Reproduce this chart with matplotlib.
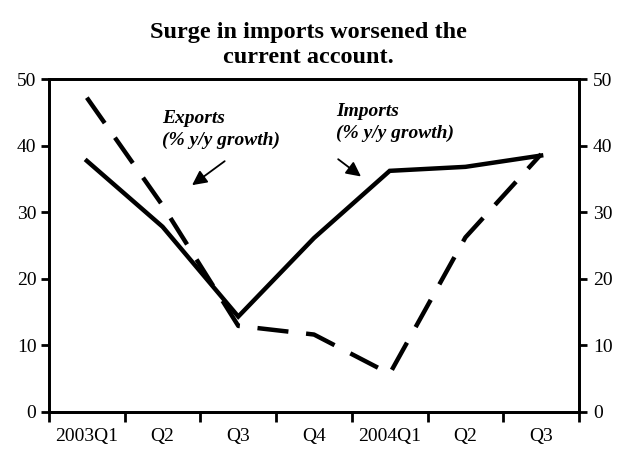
import matplotlib
matplotlib.use("Agg")
import matplotlib.pyplot as plt

quarters = ["2003Q1", "Q2", "Q3", "Q4", "2004Q1", "Q2", "Q3"]
imports_growth = [37.7, 27.8, 14.3, 26.1, 36.2, 36.8, 38.5]
exports_growth = [47.2, 31.0, 12.9, 11.6, 5.7, 26.2, 38.7]

plt.rcParams['font.family'] = ['Liberation Serif', 'DejaVu Serif']

fig = plt.figure(figsize=(6.17, 4.51), dpi=100)
ax = fig.add_axes([0.0794, 0.0871, 0.859, 0.7377])

x = list(range(len(quarters)))
ax.plot(x, imports_growth, color='black', lw=3.2, solid_joinstyle='miter')
ax.plot(x, exports_growth, color='black', lw=3.2, dashes=(7, 4))

ax.set_xlim(-0.5, len(quarters) - 0.5)
ax.set_ylim(0, 50)
ax.set_yticks(range(0, 51, 10))
# boundary ticks between quarters, labels centred on the quarters
ax.set_xticks([i - 0.5 for i in range(len(quarters) + 1)])
ax.set_xticklabels([])
ax.set_xticks(x, minor=True)
ax.set_xticklabels(quarters, minor=True, fontsize=14)
ax.tick_params(axis='x', which='minor', length=0, pad=12)
ax.tick_params(axis='x', which='major', direction='out', length=7, width=2)
ax.tick_params(axis='y', direction='out', length=6, width=2, labelsize=14, pad=3)

ax2 = ax.twinx()
ax2.set_ylim(0, 50)
ax2.set_yticks(range(0, 51, 10))
ax2.tick_params(axis='y', direction='out', length=6, width=2, labelsize=14, pad=4)

for a in (ax, ax2):
    for s in a.spines.values():
        s.set_linewidth(2)

fig.text(0.5, 0.900, "Surge in imports worsened the\ncurrent account.",
         ha='center', va='center', fontsize=17.5, fontweight='bold',
         linespacing=1.3)

ax.text(0.99, 42.4, "Exports\n(% y/y growth)", fontsize=14, fontstyle='italic',
        fontweight='bold', ha='left', va='center', linespacing=1.35)
ax.annotate("", xy=(1.36, 33.8), xytext=(1.85, 37.9),
            arrowprops=dict(arrowstyle='-|>', color='black', lw=1.3,
                            mutation_scale=22))

ax.text(3.29, 43.4, "Imports\n(% y/y growth)", fontsize=14, fontstyle='italic',
        fontweight='bold', ha='left', va='center', linespacing=1.35)
ax.annotate("", xy=(3.65, 35.1), xytext=(3.29, 38.2),
            arrowprops=dict(arrowstyle='-|>', color='black', lw=1.3,
                            mutation_scale=22))

fig.savefig("out.png", dpi=100)
